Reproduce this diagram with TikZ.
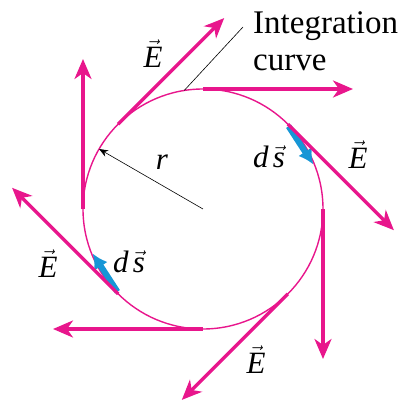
\documentclass[tikz,border=0pt]{standalone}
\usepackage{fontspec}
\setmainfont{Liberation Serif}
\usetikzlibrary{arrows.meta}
\definecolor{campo}{RGB}{232,22,140}
\definecolor{deslocamento}{RGB}{22,150,214}

\begin{document}
\begin{tikzpicture}[x=1pt, y=1pt,
    campoE/.style={campo, line width=3.3pt, -{Stealth[length=20pt,width=17pt,inset=6pt]}},
    vetords/.style={deslocamento, line width=6pt, -{Latex[length=15pt,width=16pt]}},
    rotulo/.style={anchor=base, inner sep=0pt, font=\fontsize{31}{35}\selectfont}]

        \useasboundingbox (-203,-193) rectangle (197,209);
        \coordinate (O) at (0,0);

        % curva de integracao
        \draw[campo, line width=1.4pt] (O) circle (120);

        % vetores ds
        \draw[vetords] (44:119) -- (22:119);
        \draw[vetords] (224:119) -- (202:119);

        % vetores E tangentes
        \foreach \a in {0,45,...,315}
            \draw[campoE] (\a:120) -- ++(\a-90:150);

        % raio
        \coordinate (borda) at (150:120);
        \draw[-{Stealth[length=9pt,width=7pt]}, line width=0.6pt] (O) -- (borda);
        \node[rotulo] (r) at (-41,40) {\itshape r};

        % rótulos dos vetores
        \node[rotulo] (E1) at (-50,142) {$\vec{\mbox{\itshape E}}$};
        \node[rotulo] (E2) at (155,41) {$\vec{\mbox{\itshape E}}$};
        \node[rotulo] (E3) at (-155,-68) {$\vec{\mbox{\itshape E}}$};
        \node[rotulo] (E4) at (53,-164) {$\vec{\mbox{\itshape E}}$};
        \node[rotulo] (ds1) at (66,42) {$\mbox{\itshape d}\,\vec{\mbox{\itshape s}}$};
        \node[rotulo] (ds2) at (-74,-63) {$\mbox{\itshape d}\,\vec{\mbox{\itshape s}}$};

        % legenda
        \node[anchor=base west, align=left, inner sep=0pt, font=\fontsize{33}{37}\selectfont] (curva) at (50,139) {Integration\\curve};
        \coordinate (guia) at (40,182);
        \coordinate (toque) at (99:120);
        \draw[line width=0.6pt] (guia) -- (toque);

    \end{tikzpicture}
\end{document}
